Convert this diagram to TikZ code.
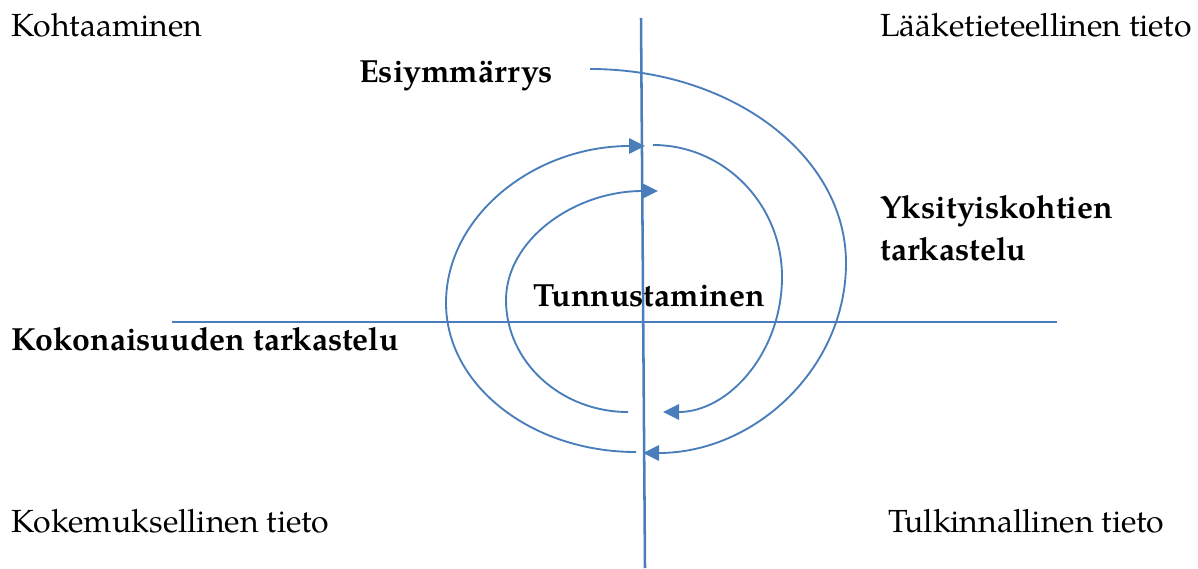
\documentclass[tikz,border=0pt]{standalone}
\usepackage{fontspec}
\setmainfont{TeX Gyre Pagella}
\usetikzlibrary{arrows.meta}
\definecolor{ln}{HTML}{4A7EBB}
\begin{document}
\begin{tikzpicture}[x=0.75pt,y=-0.75pt,
  axis/.style={draw=ln,line width=1.9pt},
  loop/.style={draw=ln,line width=1.4pt},
  tip/.style={-{Triangle[length=12pt,width=11.5pt]}},
  lbl/.style={anchor=base west,inner sep=0pt,font=\fontsize{24}{29}\selectfont},
  blbl/.style={lbl,font=\fontsize{24}{29}\selectfont\bfseries}]
\useasboundingbox (0,0) rectangle (1198,568);
% axes
\coordinate (vt) at (641,18);
\coordinate (vb) at (645,568);
\coordinate (hl) at (172,322);
\coordinate (hr) at (1057,322);
\draw[axis] (vt) -- (vb);
\draw[axis] (hl) -- (hr);
% labels
\node[lbl] (k1) at (11,36) {Kohtaaminen};
\node[lbl] (k2) at (880,36) {Lääketieteellinen tieto};
\node[lbl] (k3) at (11,532) {Kokemuksellinen tieto};
\node[lbl] (k4) at (888,532) {Tulkinnallinen tieto};
\node[blbl] (b1) at (359,82) {Esiymmärrys};
\node[blbl] (b2) at (880,218) {Yksityiskohtien};
\node[blbl] (b3) at (880,260) {tarkastelu};
\node[blbl] (b4) at (533,306) {Tunnustaminen};
\node[blbl] (b5) at (11,350) {Kokonaisuuden tarkastelu};
% loops
\coordinate (o1s) at (590,69);
\coordinate (o1m) at (846,263);
\coordinate (o1e) at (643,453);
\draw[loop,tip] (o1s) .. controls (731,69) and (846,155) .. (o1m)
  .. controls (846,368) and (755,453) .. (o1e);
\coordinate (o2s) at (636,452);
\coordinate (o2m) at (446,303);
\coordinate (o2e) at (645,146);
\draw[loop,tip] (o2s) .. controls (531,452) and (446,385) .. (o2m)
  .. controls (446,216) and (534,146) .. (o2e);
\coordinate (i1s) at (653,145);
\coordinate (i1m) at (782,277);
\coordinate (i1e) at (663,412);
\draw[loop,tip] (i1s) .. controls (724,145) and (782,204) .. (i1m)
  .. controls (782,352) and (729,412) .. (i1e);
\coordinate (i2s) at (628,412);
\coordinate (i2m) at (506,300);
\coordinate (i2e) at (658,191);
\draw[loop,tip] (i2s) .. controls (561,412) and (506,362) .. (i2m)
  .. controls (506,240) and (574,191) .. (i2e);
\end{tikzpicture}
\end{document}
